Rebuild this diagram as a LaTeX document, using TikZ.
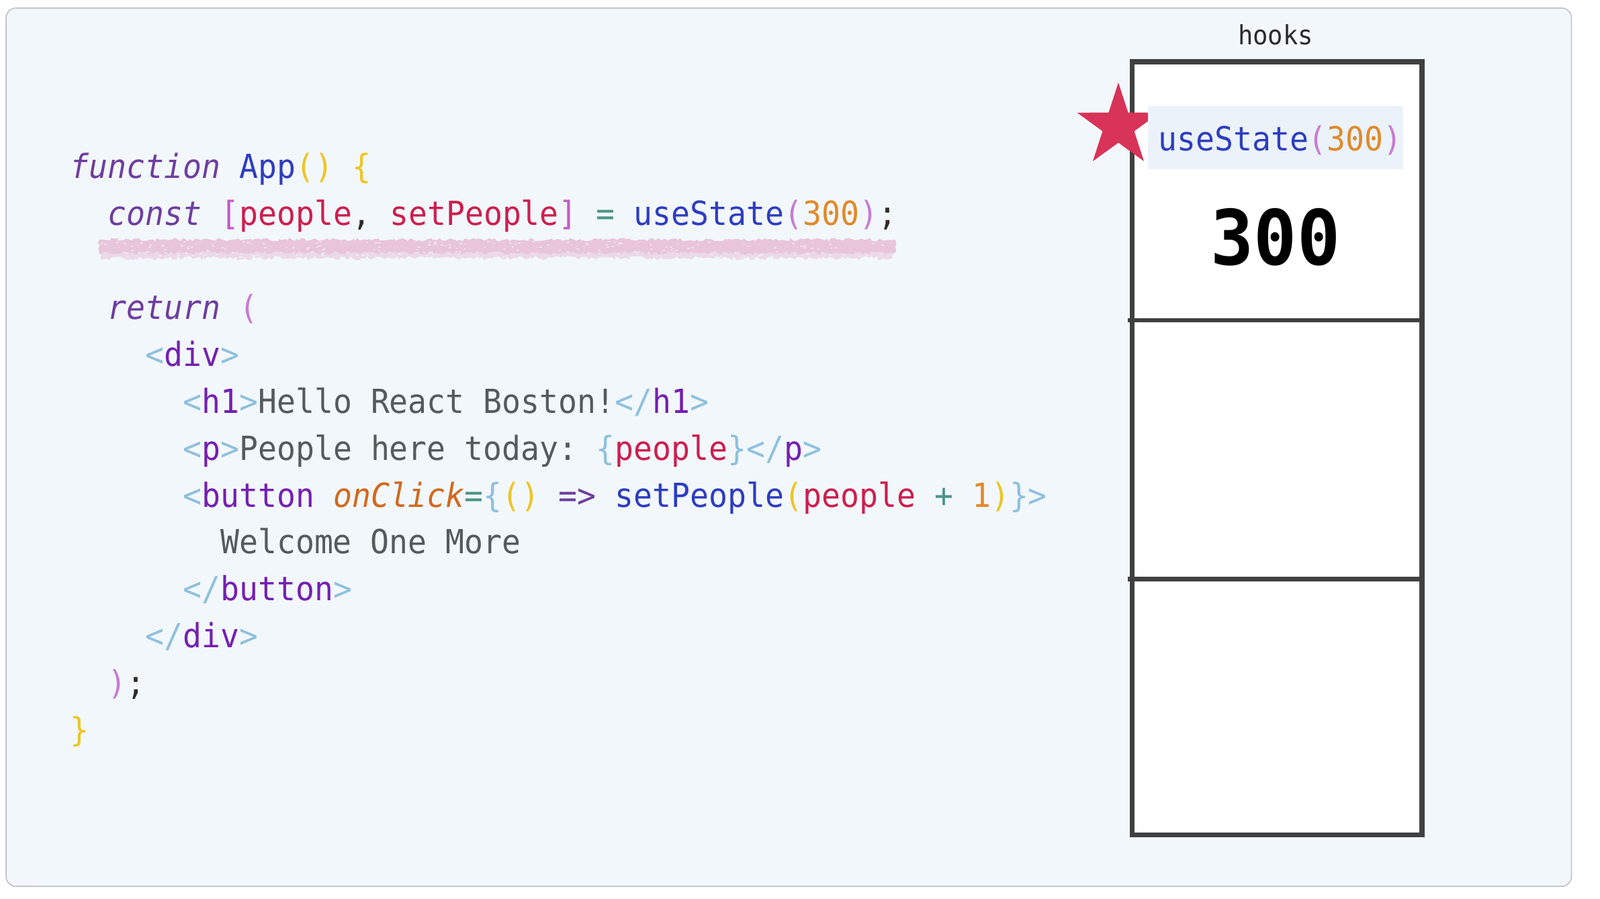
\documentclass[tikz,border=0pt]{standalone}
\usepackage{fontspec}
\usetikzlibrary{decorations.pathmorphing}
\newfontfamily\codefont[FakeStretch=0.94, ItalicFont={DejaVu Sans Mono Oblique}, BoldFont={DejaVu Sans Mono Bold}]{DejaVu Sans Mono}
\definecolor{bgc}{HTML}{F2F7FB}
\definecolor{framec}{HTML}{C4C8CD}
\definecolor{kwc}{HTML}{6E3E9E}
\definecolor{fnc}{HTML}{2E3DBF}
\definecolor{ylc}{HTML}{EDC523}
\definecolor{brc}{HTML}{C25AC8}
\definecolor{varc}{HTML}{CC1F4E}
\definecolor{opc}{HTML}{4A9488}
\definecolor{numc}{HTML}{E08A2B}
\definecolor{parc}{HTML}{C77BD3}
\definecolor{tagc}{HTML}{8FC0DE}
\definecolor{tnc}{HTML}{7420B0}
\definecolor{txtc}{HTML}{555A5E}
\definecolor{attrc}{HTML}{D2691E}
\definecolor{dkc}{HTML}{2B2B2B}
\definecolor{boxc}{HTML}{404040}
\definecolor{starc}{HTML}{D83358}
\definecolor{hlc}{HTML}{E8C5DB}
\definecolor{usbg}{HTML}{EBF2F9}
\newcommand\kc[2]{\textcolor{#1}{#2}}
\begin{document}
\begin{tikzpicture}[x=0.75pt,y=-0.75pt,
  codeline/.style={anchor=base west, inner sep=0pt, outer sep=0pt,
    font=\codefont\fontsize{24.4}{30}\selectfont\frenchspacing},
  boxline/.style={draw=boxc, line width=3.75pt},
  divline/.style={draw=boxc, line width=3.4pt}]
\useasboundingbox (0,0) rectangle (1568,880.8);
\fill[white] (0,0) rectangle (1568,880.8);
% frame
\draw[draw=framec, fill=bgc, line width=0.9pt, rounded corners=7pt] (6,8) rectangle (1540,869);
% highlight under const line
\fill[hlc, decorate, decoration={random steps, segment length=2pt, amplitude=1.3pt}] (97,235) rectangle (877,248);
\fill[hlc, opacity=0.6, decorate, decoration={random steps, segment length=2pt, amplitude=1.5pt}] (98,246) rectangle (875,253);
\pgfmathsetseed{7}
\foreach \i in {1,...,220}{
  \pgfmathsetmacro\px{99+775*rnd}
  \pgfmathsetmacro\py{236+16*rnd}
  \fill[bgc, opacity=0.55] (\px,\py) rectangle ++(2.5,1.2);
}
% code
\def\xo{69}
\def\ad{18.38}
\node[codeline] (l0) at (\xo,175) {\kc{kwc}{\itshape function} \kc{fnc}{App}\kc{ylc}{()} \kc{ylc}{\{}};
\node[codeline] (l1) at (\xo+2*\ad,221) {\kc{kwc}{\itshape const} \kc{brc}{[}\kc{varc}{people}\kc{dkc}{,} \kc{varc}{setPeople}\kc{brc}{]} \kc{opc}{=} \kc{fnc}{useState}\kc{parc}{(}\kc{numc}{300}\kc{parc}{)}\kc{dkc}{;}};
\node[codeline] (l3) at (\xo+2*\ad,313) {\kc{kwc}{\itshape return} \kc{parc}{(}};
\node[codeline] (l4) at (\xo+4*\ad,359) {\kc{tagc}{<}\kc{tnc}{div}\kc{tagc}{>}};
\node[codeline] (l5) at (\xo+6*\ad,405) {\kc{tagc}{<}\kc{tnc}{h1}\kc{tagc}{>}\kc{txtc}{Hello React Boston!}\kc{tagc}{</}\kc{tnc}{h1}\kc{tagc}{>}};
\node[codeline] (l6) at (\xo+6*\ad,451) {\kc{tagc}{<}\kc{tnc}{p}\kc{tagc}{>}\kc{txtc}{People here today:} \kc{tagc}{\{}\kc{varc}{people}\kc{tagc}{\}</}\kc{tnc}{p}\kc{tagc}{>}};
\node[codeline] (l7) at (\xo+6*\ad,497) {\kc{tagc}{<}\kc{tnc}{button} \kc{attrc}{\itshape onClick}\kc{opc}{=}\kc{tagc}{\{}\kc{ylc}{()} \kc{kwc}{=>} \kc{fnc}{setPeople}\kc{ylc}{(}\kc{varc}{people} \kc{opc}{+} \kc{numc}{1}\kc{ylc}{)}\kc{tagc}{\}>}};
\node[codeline] (l8) at (\xo+8*\ad,543) {\kc{txtc}{Welcome One More}};
\node[codeline] (l9) at (\xo+6*\ad,589) {\kc{tagc}{</}\kc{tnc}{button}\kc{tagc}{>}};
\node[codeline] (l10) at (\xo+4*\ad,635) {\kc{tagc}{</}\kc{tnc}{div}\kc{tagc}{>}};
\node[codeline] (l11) at (\xo+2*\ad,681) {\kc{parc}{)}\kc{dkc}{;}};
\node[codeline] (l12) at (\xo,727) {\kc{ylc}{\}}};
% hooks box
\node[anchor=base, inner sep=0pt, font=\codefont\fontsize{19.5}{24}\selectfont, text=dkc] (hooks) at (1250,44) {hooks};
\fill[white] (1109.5,60.5) rectangle (1393.5,818.5);
\draw[divline] (1105,314) -- (1394,314);
\draw[divline] (1105,568) -- (1394,568);
\draw[boxline] (1109.5,60.5) rectangle (1393.5,818.5);
% star
\begin{scope}[shift={(1096,123.6)}]
\fill[starc] (-90:42.6) -- (-54:16.3) -- (-18:42.6) -- (18:16.3) -- (54:42.6) -- (90:16.3) -- (126:42.6) -- (162:16.3) -- (198:42.6) -- (234:16.3) -- cycle;
\end{scope}
\fill[usbg] (1125,104) rectangle (1375,166);
\node[codeline] (us) at (1135,148) {\kc{fnc}{useState}\kc{parc}{(}\kc{numc}{300}\kc{parc}{)}};
\node[anchor=base, inner sep=0pt, font=\codefont\bfseries\fontsize{56}{60}\selectfont, text=black] (val) at (1250,260) {300};
\end{tikzpicture}
\end{document}
